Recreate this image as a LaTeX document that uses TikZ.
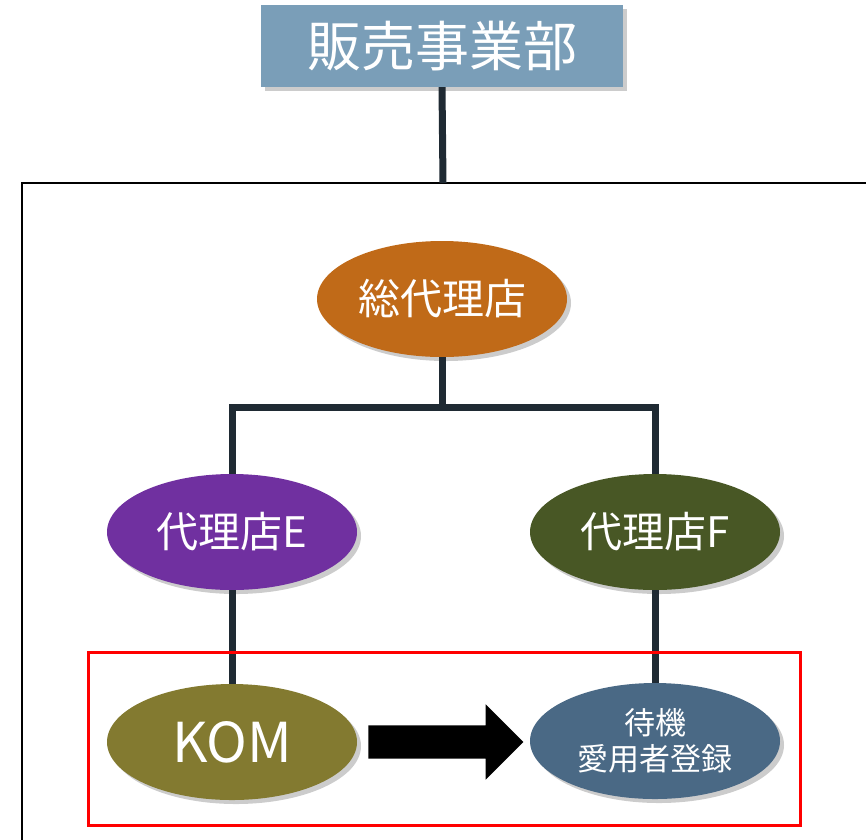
\documentclass[tikz,border=0pt]{standalone}
\usepackage{fontspec}
\setmainfont{Noto Sans CJK JP}
\usepackage{xcolor}
\usepackage{tikz}
\usetikzlibrary{positioning}
\usetikzlibrary{shapes.geometric}
\usetikzlibrary{shapes.arrows}
\usetikzlibrary{shadows}
\usetikzlibrary{calc}
\definecolor{headblue}{HTML}{7A9EB8}
\definecolor{linedark}{HTML}{1F2A33}
\definecolor{souorange}{HTML}{C06A18}
\definecolor{epurple}{HTML}{7030A0}
\definecolor{fgreen}{HTML}{485725}
\definecolor{komolive}{HTML}{837A30}
\definecolor{tkblue}{HTML}{4A6985}
\tikzstyle{headbox} = [rectangle, fill=headblue, text=white, minimum width=362pt, minimum height=82pt, drop shadow={opacity=0.4, shadow xshift=4pt, shadow yshift=-4pt}]
\tikzstyle{agent}   = [ellipse, text=white, minimum width=250pt, minimum height=116pt, inner sep=0pt, drop shadow={opacity=0.4, shadow xshift=4pt, shadow yshift=-4pt}]
\tikzstyle{conn}    = [draw=linedark, line width=7pt]

\begin{document}
\begin{tikzpicture}[x=1pt, y=-1pt]
        \useasboundingbox (0,0) rectangle (866,839);
        \node [headbox, font=\fontsize{54}{60}\selectfont] (hq) at (442,46) {販売事業部};
        \coordinate (framtop) at (443,183);
        \draw [line width=2pt] (22,183) rectangle (880,850);
        \node [agent, fill=souorange, font=\fontsize{42}{48}\selectfont] (sou) at (442,299) {総代理店};
        \node [agent, fill=epurple, font=\fontsize{42}{48}\selectfont] (dE) at (232,532) {代理店E};
        \node [agent, fill=fgreen, font=\fontsize{42}{48}\selectfont] (dF) at (655,532) {代理店F};
        \node [agent, fill=komolive, font=\fontsize{55}{60}\selectfont, below of=dE, node distance=210pt] (kom) {KOM};
        \node [agent, fill=tkblue, font=\fontsize{31}{36}\selectfont, align=center, below of=dF, node distance=209pt] (tk) {待機\\愛用者登録};
        \coordinate (jn) at (442,407);
        \path [conn] (hq.south) -- (framtop);
        \path [conn] (sou.south) -- (jn);
        \path [conn] (dE.north) |- (jn) -| (dF.north);
        \path [conn] (dE.south) -- (kom.north);
        \path [conn] (dF.south) -- (tk.north);
        \node [single arrow, fill=black, minimum height=155pt, inner xsep=0pt, inner ysep=16.5pt, single arrow head extend=21pt, anchor=tail] (arr) at ($(kom.east)+(11,0)$) {};
        \draw [red, line width=3pt] (88,652) rectangle (800,825);
    \end{tikzpicture}
\end{document}
